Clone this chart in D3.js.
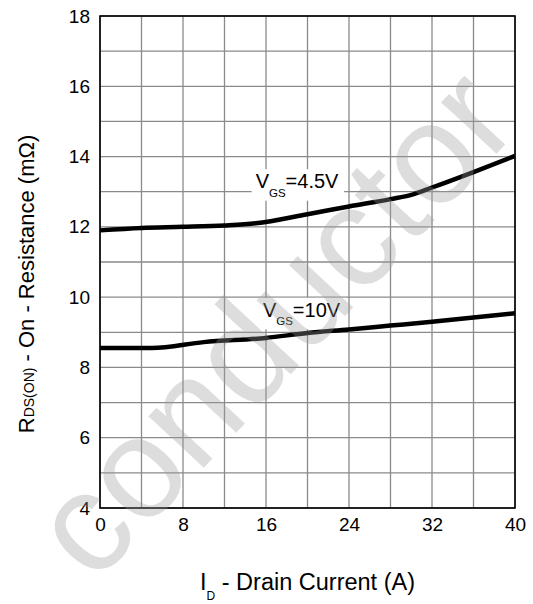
<!DOCTYPE html>
<html>
<head>
<meta charset="utf-8">
<script src="https://cdn.jsdelivr.net/npm/d3@7"></script>
<style>
  body { margin: 0; background: #fff; }
  text { font-family: Arial, "Liberation Sans", sans-serif; }
</style>
</head>
<body>
<div id="chart"></div>
<script>
// drain current (A) and on-resistance (mOhm)
const current45 = [0, 4, 8, 12, 15, 20, 24, 28, 30, 32, 36, 40]
const res45 = [11.9, 11.97, 12.0, 12.04, 12.1, 12.36, 12.58, 12.79, 12.91, 13.12, 13.56, 14.02]
const current10 = [0, 5, 10, 16, 20, 24, 28, 32, 36, 40]
const res10 = [8.55, 8.55, 8.72, 8.84, 8.98, 9.08, 9.19, 9.3, 9.42, 9.54]

const xTicks = [0, 8, 16, 24, 32, 40]
const yTicks = [4, 6, 8, 10, 12, 14, 16, 18]
const xGrid = d3.range(0, 41, 4)
const yGrid = d3.range(4, 19, 1)

const margin = { left: 100, right: 18, top: 16, bottom: 96 }
const width = 533 - margin.left - margin.right
const height = 604 - margin.top - margin.bottom

const svg = d3.select('#chart')
  .append('svg')
  .attr('width', 533)
  .attr('height', 604)

const g = svg.append('g')
  .attr('transform', `translate(${margin.left}, ${margin.top})`)

const x = d3.scaleLinear().domain([0, 40]).range([0, width])
const y = d3.scaleLinear().domain([4, 18]).range([height, 0])

// grid
g.selectAll('.vgrid').data(xGrid).enter()
  .append('line')
  .attr('x1', d => x(d)).attr('x2', d => x(d))
  .attr('y1', 0).attr('y2', height)
  .attr('stroke', '#8a8a8a')
  .attr('stroke-width', 1.3)

g.selectAll('.hgrid').data(yGrid).enter()
  .append('line')
  .attr('x1', 0).attr('x2', width)
  .attr('y1', d => y(d)).attr('y2', d => y(d))
  .attr('stroke', '#8a8a8a')
  .attr('stroke-width', 1.3)

// axes (labels only, the frame is drawn below)
const xAxis = g.append('g')
  .attr('transform', `translate(0, ${height})`)
  .call(d3.axisBottom(x).tickValues(xTicks).tickSize(0).tickPadding(10))
const yAxis = g.append('g')
  .call(d3.axisLeft(y).tickValues(yTicks).tickSize(0).tickPadding(10))
xAxis.select('.domain').remove()
yAxis.select('.domain').remove()
g.selectAll('.tick text')
  .attr('font-size', '19px')
  .attr('font-family', 'Arial, "Liberation Sans", sans-serif')
  .attr('fill', '#000')

// curve labels with white boxes
const labels = [
  { sub: 'GS', rest: '=4.5V', cx: 15, cy: 13.1 },
  { sub: 'GS', rest: '=10V', cx: 15.7, cy: 9.44 },
]
labels.forEach(l => {
  const box = g.append('rect').attr('fill', '#fff')
  const t = g.append('text')
    .attr('x', x(l.cx))
    .attr('y', y(l.cy))
    .attr('font-size', '20px')
    .attr('fill', '#000')
  t.append('tspan').text('V')
  t.append('tspan').attr('font-size', '11.5px').attr('dy', 8.5).text(l.sub)
  t.append('tspan').attr('dy', -8.5).text(l.rest)
  const b = t.node().getBBox()
  box.attr('x', b.x - 4).attr('y', b.y - 1)
    .attr('width', b.width + 9).attr('height', b.height + 3)
})

// watermark
svg.append('text')
  .attr('transform', 'translate(272, 322) rotate(-47)')
  .attr('text-anchor', 'middle')
  .attr('dominant-baseline', 'central')
  .attr('font-size', '143px')
  .attr('fill', '#9a9a9a')
  .attr('fill-opacity', 0.34)
  .text('conductor')

// frame
g.append('rect')
  .attr('width', width)
  .attr('height', height)
  .attr('fill', 'none')
  .attr('stroke', '#000')
  .attr('stroke-width', 1.6)

// curves
const line = d3.line()
  .x(d => x(d[0]))
  .y(d => y(d[1]))
  .curve(d3.curveMonotoneX)

const series = [
  d3.zip(current45, res45),
  d3.zip(current10, res10),
]
g.selectAll('.curve').data(series).enter()
  .append('path')
  .attr('d', line)
  .attr('fill', 'none')
  .attr('stroke', '#000')
  .attr('stroke-width', 4.5)

// x axis title
const xt = svg.append('text')
  .attr('x', 200)
  .attr('y', 590)
  .attr('font-size', '23.5px')
  .attr('fill', '#000')
xt.append('tspan').text('I')
xt.append('tspan').attr('font-size', '12px').attr('dy', 10).text('D')
xt.append('tspan').attr('dy', -10).text(' - Drain Current (A)')

// y axis title
const yt = svg.append('text')
  .attr('transform', 'translate(34, 284) rotate(-90)')
  .attr('text-anchor', 'middle')
  .attr('font-size', '22px')
  .attr('fill', '#000')
yt.append('tspan').text('R')
yt.append('tspan').attr('font-size', '14px').text('DS(ON)')
yt.append('tspan').text(' - On - Resistance (mΩ)')
</script>
</body>
</html>
